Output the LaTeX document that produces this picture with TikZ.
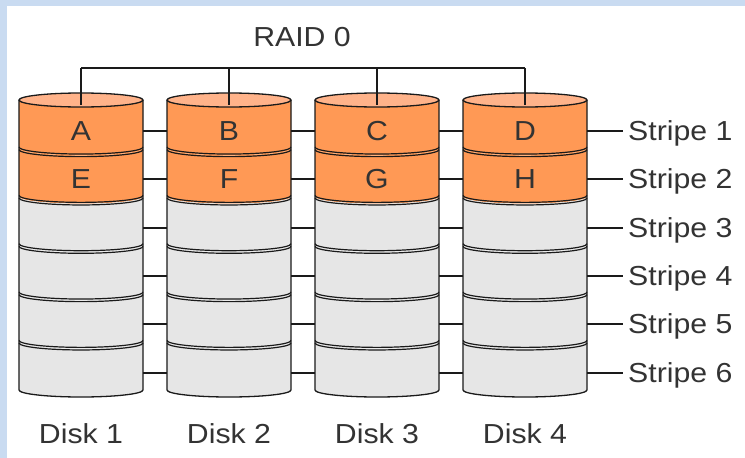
\documentclass[tikz,border=0pt]{standalone}
\usepackage{fontspec}
\setmainfont[FakeStretch=1.1]{Liberation Sans}
\definecolor{frameblue}{HTML}{C9DBF1}
\definecolor{stripeorange}{HTML}{FF9955}
\definecolor{toporange}{HTML}{FFB38A}
\definecolor{platter}{HTML}{E6E6E6}
\definecolor{ink}{HTML}{333333}
\definecolor{edge}{HTML}{1A1A1A}
\begin{document}
\begin{tikzpicture}[x=1pt,y=-1pt,
  txt/.style={font=\fontsize{27.5}{30}\selectfont, text=ink, inner sep=0pt,
              text height=19.7pt, text depth=0pt},
  outline/.style={draw=edge, line width=1.3pt},
  link/.style={draw=edge, line width=2pt},
  seam/.style={draw=edge, line width=1.2pt},
]
% frame
\fill[frameblue] (0,0) rectangle (745,458);
\fill[white] (7,6) rectangle (745,458);
\useasboundingbox (0,0) rectangle (745,458);

\def\rx{62}
\def\ry{7}
% disks
\foreach \d/\cx in {1/81,2/229,3/377,4/525} {
  % stacked segments
  \foreach \k in {0,...,5} {
    \pgfmathsetmacro\ya{100+48.333*\k}
    \pgfmathsetmacro\yb{100+48.333*(\k+1)}
    \ifnum\k<2 \def\col{stripeorange}\else\def\col{platter}\fi
    \fill[\col] (\cx-\rx,\ya) -- (\cx-\rx,\yb)
      arc[start angle=180,end angle=0,x radius=\rx,y radius=\ry]
      -- (\cx+\rx,\ya)
      arc[start angle=0,end angle=180,x radius=\rx,y radius=\ry] -- cycle;
    \pgfmathsetmacro\ym{round((\ya+\yb)/2+7)}
    \coordinate (d\d-l\k) at (\cx-\rx,\ym);
    \coordinate (d\d-r\k) at (\cx+\rx,\ym);
  }
  % seams between segments
  \foreach \k in {1,...,5} {
    \pgfmathsetmacro\ys{100+48.333*\k}
    \draw[seam] (\cx-\rx,\ys-1.3)
      arc[start angle=180,end angle=0,x radius=\rx,y radius=\ry];
    \draw[seam] (\cx-\rx,\ys+1.3)
      arc[start angle=180,end angle=0,x radius=\rx,y radius=\ry];
  }
  % sides and bottom
  \draw[outline] (\cx-\rx,100) -- (\cx-\rx,390)
    arc[start angle=180,end angle=0,x radius=\rx,y radius=\ry]
    -- (\cx+\rx,100);
  % top face
  \filldraw[fill=toporange, outline] (\cx,100) ellipse[x radius=\rx, y radius=\ry];
  % bus attachment points
  \coordinate (bus\d) at (\cx,68);
  \coordinate (top\d) at (\cx,105);
  % label
  \node[txt] (disk\d) at (\cx,433.5) {Disk \d};
}

% block letters
\foreach \d/\a/\b in {1/A/E,2/B/F,3/C/G,4/D/H} {
  \node[txt] (blk\a) at (d\d-l0 -| disk\d) {\a};
  \node[txt] (blk\b) at (d\d-l1 -| disk\d) {\b};
}

% controller bus
\node[txt] (raid) at (302,37) {RAID 0};
\draw[link, line width=1.6pt] (bus1) -- (bus4);
\foreach \d in {1,...,4} \draw[link, line width=1.6pt] (bus\d) -- (top\d);

% stripe links and labels
\foreach \k in {0,...,5} {
  \pgfmathtruncatemacro\n{\k+1}
  \node[txt, anchor=west, inner xsep=5pt] (stripe\n) at (d4-r\k -| 623,0) {Stripe \n};
  \foreach \d in {1,2,3} {
    \pgfmathtruncatemacro\e{\d+1}
    \draw[link] (d\d-r\k) -- (d\e-l\k);
  }
  \draw[link] (d4-r\k) -- (stripe\n.west);
}
\end{tikzpicture}
\end{document}
